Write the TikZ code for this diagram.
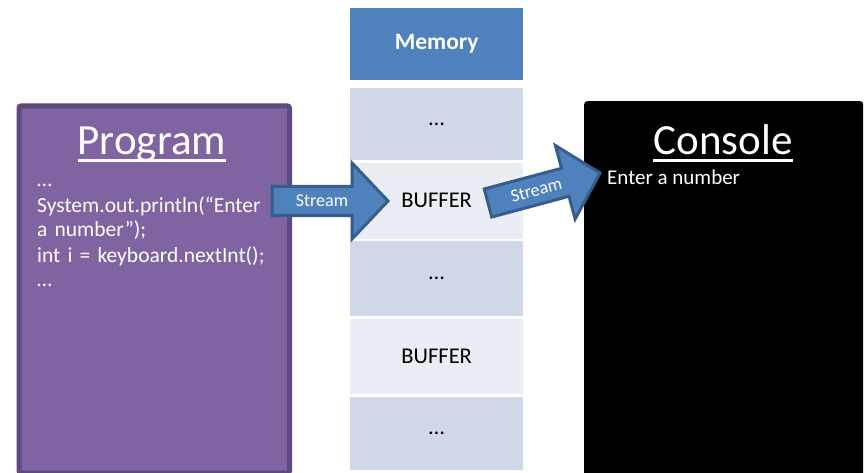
\documentclass[tikz,border=0pt]{standalone}
\usepackage{fontspec}
\setmainfont{Carlito}
\definecolor{purplefill}{HTML}{8064A2}
\definecolor{purpleline}{HTML}{5E4A7C}
\definecolor{memblue}{HTML}{4F81BD}
\definecolor{arrline}{HTML}{385D8A}
\definecolor{celldark}{HTML}{D0D8E8}
\definecolor{celllight}{HTML}{E9EDF4}
\tikzset{
  cell/.style={draw=none, minimum width=173pt, anchor=north west, inner sep=0pt, font=\fontsize{22.5}{26}\selectfont},
  darkcell/.style={cell, fill=celldark},
  lightcell/.style={cell, fill=celllight},
  blockarrow/.style={fill=memblue, draw=arrline, line width=3pt, line join=miter},
  streamtext/.style={text=white, font=\fontsize{18}{20}\selectfont, inner sep=0pt},
  titletext/.style={text=white, font=\fontsize{43}{48}\selectfont, inner sep=0pt, anchor=base},
  uline/.style={white, line width=2.5pt}
}
\begin{document}
\begin{tikzpicture}[x=1pt, y=-1pt]
\useasboundingbox (0,0) rectangle (867,473);
% Program box
\node[draw=purpleline, fill=purplefill, line width=5pt, rounded corners=2pt,
  minimum width=270.5pt, minimum height=367pt, anchor=north west, inner sep=0pt] (prog) at (16.5,103.5) {};
\node[titletext] (ptitle) at (152,155) {Program};
\draw[uline] ([yshift=-5.5pt]ptitle.base west) -- ([yshift=-5.5pt]ptitle.base east);
\node[text=white, anchor=base west, inner sep=0pt, align=left, text width=240pt,
  font=\fontsize{21.5}{25}\selectfont] (code) at (37,187)
  {…\\System.out.println(“Enter\\a number”);\\int i = keyboard.nextInt();\\…};
% Console box
\node[fill=black, rounded corners=3pt, minimum width=279pt, minimum height=376pt,
  anchor=north west, inner sep=0pt] (cons) at (584,101) {};
\node[titletext] (ctitle) at (723,155) {Console};
\draw[uline] ([yshift=-5.5pt]ctitle.base west) -- ([yshift=-5.5pt]ctitle.base east);
\node[text=white, anchor=base west, inner sep=0pt, font=\fontsize{21}{25}\selectfont] (enter) at (607,185) {Enter a number};
% Memory column
\node[cell, fill=memblue, minimum height=72pt, text=white, font=\fontsize{23.5}{26}\selectfont\bfseries] (mem) at (350,8) {Memory};
\node[darkcell, minimum height=72pt] (c1) at (350,88) {…};
\node[lightcell, minimum height=76pt] (c2) at (350,162.5) {BUFFER};
\node[darkcell, minimum height=75pt] (c3) at (350,241) {…};
\node[lightcell, minimum height=75pt] (c4) at (350,319) {BUFFER};
\node[darkcell, minimum height=73pt] (c5) at (350,397) {…};
% Stream arrows
\begin{scope}[shift={(272,201)}]
  \draw[blockarrow] (0,-14.5) -- (80,-14.5) -- (80,-38) -- (116,0) -- (80,38) -- (80,14.5) -- (0,14.5) -- cycle;
  \node[streamtext] (s1) at (50,0) {Stream};
\end{scope}
\begin{scope}[shift={(488,203)}, rotate=15]
  \draw[blockarrow] (0,-14.5) -- (80,-14.5) -- (80,-38) -- (116,0) -- (80,38) -- (80,14.5) -- (0,14.5) -- cycle;
  \node[streamtext, rotate=15] (s2) at (50,0) {Stream};
\end{scope}
\end{tikzpicture}
\end{document}
